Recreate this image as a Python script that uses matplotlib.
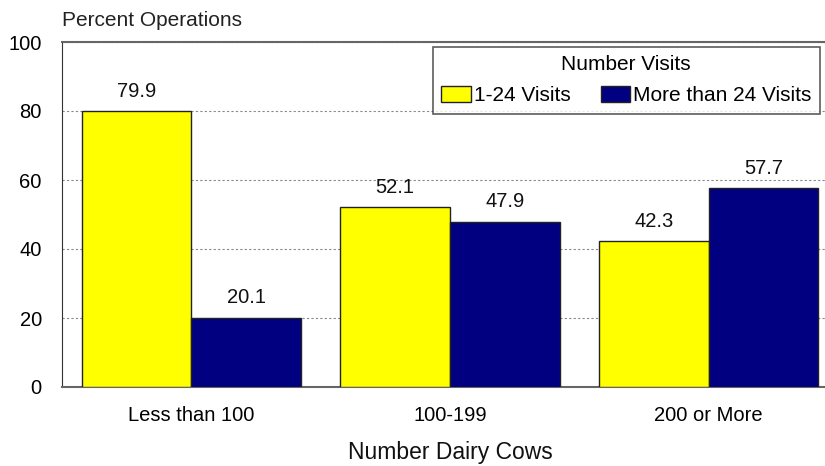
import matplotlib
matplotlib.use("Agg")
import matplotlib.pyplot as plt
import numpy as np

categories = ["Less than 100", "100-199", "200 or More"]
series_names = ["1-24 Visits", "More than 24 Visits"]
visits_low = [79.9, 52.1, 42.3]
visits_high = [20.1, 47.9, 57.7]
yticks = [0, 20, 40, 60, 80, 100]

plt.rcParams['font.family'] = ['Liberation Sans', 'DejaVu Sans']

fig = plt.figure(figsize=(8.25, 4.66), dpi=100)
ax = fig.add_axes([62/825, 1-387/466, (825-62)/825, (387-42)/466])

x = np.arange(len(categories))
w = 0.4236
b1 = ax.bar(x - w/2, visits_low, w, color="#ffff00", edgecolor="#222222", linewidth=1.0, label=series_names[0], zorder=3)
b2 = ax.bar(x + w/2, visits_high, w, color="#000080", edgecolor="#222222", linewidth=1.0, label=series_names[1], zorder=3)

for bars, vals in ((b1, visits_low), (b2, visits_high)):
    for r, v in zip(bars, vals):
        ax.text(r.get_x() + r.get_width()/2, v + 3, f"{v:.1f}", ha="center", va="bottom", fontsize=14.5, color="#111111")

ax.set_xlim(-0.5, 2.45)
ax.set_ylim(0, 100)
ax.set_yticks(yticks)
ax.set_yticklabels([str(t) for t in yticks], fontsize=14.5)
ax.set_xticks(x)
ax.set_xticklabels(categories, fontsize=14.5)
ax.tick_params(axis="both", length=0)
ax.tick_params(axis="y", pad=14.5)
ax.tick_params(axis="x", pad=13.5)
ax.yaxis.grid(True, linestyle=(0, (2, 2)), color="#888888", linewidth=0.8, zorder=0)
ax.spines["right"].set_visible(False)
ax.spines["top"].set_color("#666666")
ax.spines["top"].set_linewidth(1.5)
ax.spines["left"].set_color("#333333")
ax.spines["bottom"].set_color("#666666")
ax.spines["bottom"].set_linewidth(1.5)

fig.text(62/825, 1-20/466, "Percent Operations", fontsize=15, ha="left", va="center", color="#222222")
fig.text(450/825, 1-452/466, "Number Dairy Cows", fontsize=16.5, ha="center", va="center", color="#111111")

leg = ax.legend(title="Number Visits", ncol=2, loc="upper left", bbox_to_anchor=((433-62)/763, 1 - 5/345),
                fontsize=15, title_fontsize=15, frameon=True, fancybox=False, borderpad=0.4,
                handlelength=1.4, handleheight=0.85, handletextpad=0.15, columnspacing=1.45, borderaxespad=0,
                labelspacing=0.55)
leg.get_frame().set_edgecolor("#333333")
leg.get_frame().set_linewidth(1.2)
leg.set_zorder(5)

fig.savefig("out.png", dpi=100)
